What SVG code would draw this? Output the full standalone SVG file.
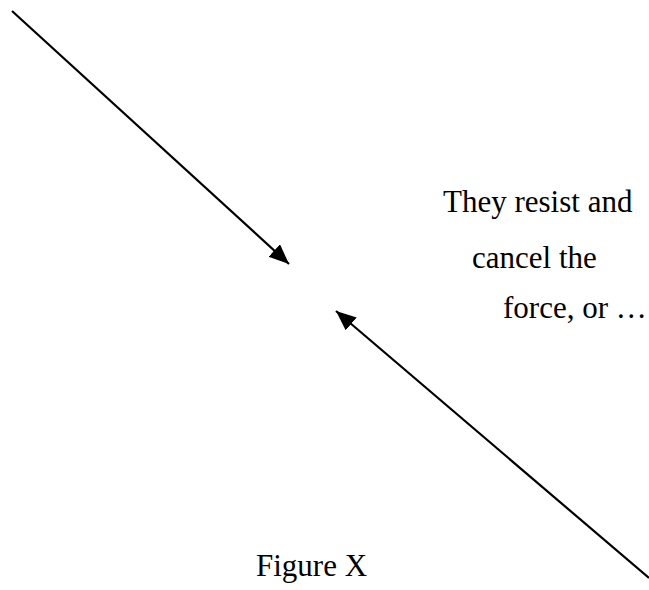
<svg xmlns="http://www.w3.org/2000/svg" width="649" height="590" viewBox="0 0 649 590">
<style>
.t{font-family:"Liberation Serif","Times New Roman",serif;font-size:31px;fill:#000}
.c{stroke:#000;stroke-width:2.2;fill:none}
</style>
<defs>
<marker id="ah" markerUnits="userSpaceOnUse" markerWidth="22" markerHeight="18" refX="20" refY="8.5" orient="auto">
<path d="M0,0 L20,8.5 L0,17 Z" fill="#000"/>
</marker>
</defs>
<rect width="649" height="590" fill="#fff"/>
<g id="connectors">
<line class="c" x1="12" y1="11" x2="289" y2="264" marker-end="url(#ah)"/>
<line class="c" x1="649" y1="578" x2="336" y2="311" marker-end="url(#ah)"/>
</g>
<g id="label">
<text class="t" x="443" y="212">They resist and</text>
<text class="t" x="472" y="268">cancel the</text>
<text class="t" x="503" y="318">force, or …</text>
</g>
<g id="caption">
<text class="t" x="256" y="576">Figure X</text>
</g>
</svg>
